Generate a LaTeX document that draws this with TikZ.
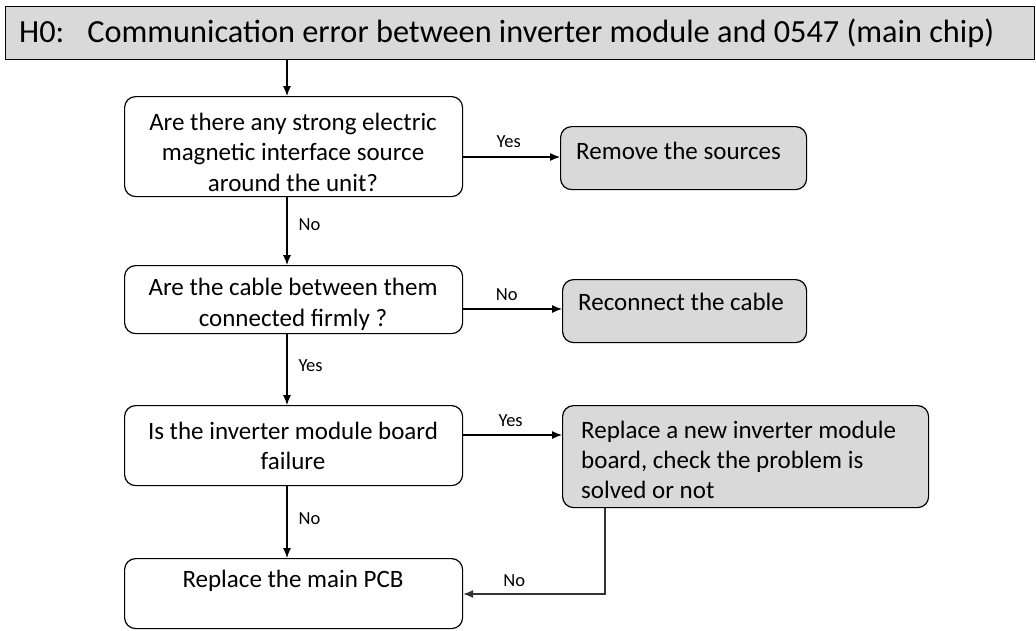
\documentclass[tikz,border=0pt]{standalone}
\usepackage{fontspec}
\setmainfont{Carlito}
\usetikzlibrary{arrows.meta}
\definecolor{boxgray}{HTML}{D9D9D9}
\begin{document}
\begin{tikzpicture}[x=1pt,y=-1pt,
  box/.style={draw=black, line width=1.2pt, rounded corners=11pt, fill=white, inner sep=0pt, anchor=north west},
  gbox/.style={box, fill=boxgray},
  txt/.style={font=\fontsize{25}{30.5}\selectfont, align=center, inner sep=0pt},
  ltxt/.style={font=\fontsize{25}{30}\selectfont, align=left, inner sep=0pt, anchor=west},
  lbl/.style={font=\fontsize{18.5}{22}\selectfont, inner sep=0pt},
  arr/.style={-{Latex[length=10pt,width=8pt]}, line width=1.1pt}]
\useasboundingbox (0,0) rectangle (1036,630);
% title
\node[draw=black, line width=1.3pt, fill=boxgray, minimum width=1029pt, minimum height=53pt, inner sep=0pt, anchor=north west] (title) at (5,6) {};
\node[font=\fontsize{32.3}{36}\selectfont, inner sep=0pt, anchor=west] (ttext) at (19,33) {H0:\hspace{23pt}Communication error between inverter module and 0547 (main chip)};
% boxes
\node[box, minimum width=338pt, minimum height=100pt] (b1) at (124,96) {};
\node[txt] (t1) at (293,152) {Are there any strong electric\\magnetic interface source\\around the unit?};
\node[gbox, minimum width=246pt, minimum height=63pt] (rem) at (560,126) {};
\node[txt, anchor=west] (trem) at (576,151) {Remove the sources};
\node[box, minimum width=338pt, minimum height=68pt] (b2) at (124,265) {};
\node[txt] (t2) at (293,304.5) {Are the cable between them\\connected firmly ?};
\node[gbox, minimum width=244pt, minimum height=63pt] (rc) at (562,279) {};
\node[txt, anchor=west] (trc) at (578,302) {Reconnect the cable};
\node[box, minimum width=338pt, minimum height=80pt] (b3) at (124,405) {};
\node[txt] (t3) at (293,446) {Is the inverter module board\\failure};
\node[gbox, minimum width=366pt, minimum height=102pt] (rep) at (562,405) {};
\node[ltxt] (trep) at (581,460) {Replace a new inverter module\\board, check the problem is\\solved or not};
\node[box, minimum width=338pt, minimum height=70pt] (b4) at (124,558) {};
\node[txt] (t4) at (293,581) {Replace the main PCB};
% connectors
\coordinate (c1) at (287,0);
\draw[arr] (title.south -| c1) -- (b1.north -| c1);
\draw[arr] (b1.south -| c1) -- node[lbl, right=11pt, pos=0.4] (l1) {No} (b2.north -| c1);
\draw[arr] (b2.south -| c1) -- node[lbl, right=11pt, pos=0.45] (l2) {Yes} (b3.north -| c1);
\draw[arr] (b3.south -| c1) -- node[lbl, right=11pt, pos=0.45] (l3) {No} (b4.north -| c1);
\coordinate (y1) at (0,157);
\draw[arr] (b1.east |- y1) -- node[lbl, above=9pt, pos=0.47] (l4) {Yes} (rem.west |- y1);
\coordinate (y2) at (0,309);
\draw[arr] (b2.east |- y2) -- node[lbl, above=8pt, pos=0.44] (l5) {No} (rc.west |- y2);
\coordinate (y3) at (0,435);
\draw[arr] (b3.east |- y3) -- node[lbl, above=8pt, pos=0.48] (l6) {Yes} (rep.west |- y3);
\coordinate (x4) at (605,594);
\draw[arr, draw=black!80] (rep.south -| x4) -- (x4) -- node[lbl, above=7pt, pos=0.64, text=black] (l7) {No} (b4.east |- x4);
\end{tikzpicture}
\end{document}
